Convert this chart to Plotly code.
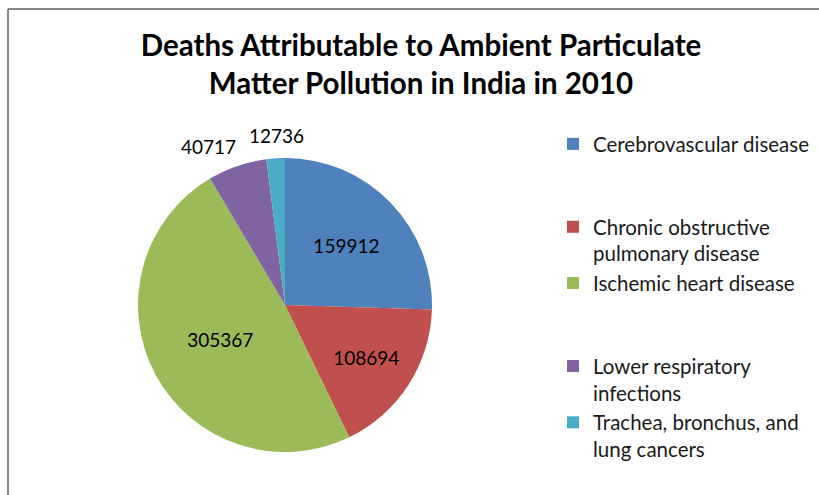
import plotly.graph_objects as go

categories = ["Cerebrovascular disease", "Chronic obstructive<br>pulmonary disease",
              "Ischemic heart disease", "Lower respiratory<br>infections",
              "Trachea, bronchus, and<br>lung cancers"]
values = [159912, 108694, 305367, 40717, 12736]
colors = ["#4F81BD", "#C0504D", "#9BBB59", "#8064A2", "#4BACC6"]
# which slices get their value written inside the pie
inside_label = [True, True, True, False, False]

# pad single-line legend entries so spacing resembles the original
legend_labels = []
for c in categories:
    n = c.count("<br>") + 1
    legend_labels.append(c + ("<br> <br> " if n == 1 else ""))

FONT = "Lato"
W, H = 819, 495

def px(x):
    return x / W

def py(y):
    return 1 - y / H

fig = go.Figure(go.Pie(
    labels=legend_labels,
    values=values,
    sort=False,
    direction="clockwise",
    rotation=0,
    marker=dict(colors=colors, line=dict(width=0)),
    texttemplate=["%{value:.0f}" if f else "" for f in inside_label],
    textposition="inside",
    insidetextorientation="horizontal",
    textfont=dict(family=FONT, size=19, color="black"),
    domain=dict(x=[px(138), px(432)], y=[py(452), py(158)]),
    hoverinfo="label+value",
))

# values of the two thin slices sit outside the pie, without leader lines
outside_pos = {3: (209, 146), 4: (276, 135)}
annotations = []
for i, (ax, ay) in outside_pos.items():
    annotations.append(dict(
        text=str(values[i]), x=px(ax), y=py(ay), xref="paper", yref="paper",
        xanchor="center", yanchor="middle", showarrow=False,
        font=dict(family=FONT, size=19, color="black"),
    ))

fig.update_layout(
    width=W, height=H,
    margin=dict(l=0, r=0, t=0, b=0),
    paper_bgcolor="white",
    plot_bgcolor="white",
    title=dict(
        text="<b>Deaths Attributable to Ambient Particulate<br>Matter Pollution in India in 2010</b>",
        x=px(421), xanchor="center", y=py(56), yanchor="top",
        font=dict(family=FONT, size=29.5, color="black"),
    ),
    legend=dict(
        x=px(553), xanchor="left", y=py(124), yanchor="top",
        font=dict(family=FONT, size=20.5, color="#1a1a1a"),
        valign="top",
        bgcolor="rgba(0,0,0,0)",
        itemclick=False,
    ),
    showlegend=True,
    annotations=annotations,
    shapes=[
        dict(type="line", xref="paper", yref="paper", x0=px(8), x1=1.0, y0=py(9), y1=py(9),
             line=dict(color="#868686", width=2)),
        dict(type="line", xref="paper", yref="paper", x0=px(8), x1=px(8), y0=0, y1=py(9),
             line=dict(color="#868686", width=2)),
    ],
)

fig.write_html("out.html", config={"displayModeBar": False},
               post_script="document.body.style.margin='0';")
